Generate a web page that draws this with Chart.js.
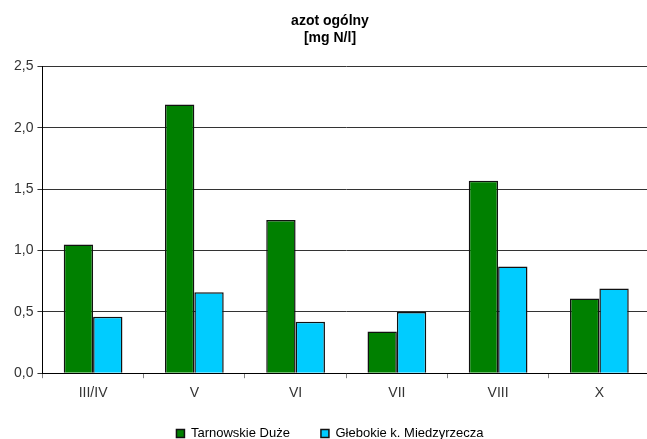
<!DOCTYPE html>
<html>
<head>
<meta charset="utf-8">
<script src="https://cdn.jsdelivr.net/npm/chart.js@4/dist/chart.umd.min.js"></script>
<style>
  html, body { margin: 0; padding: 0; background: #fff; overflow: hidden; }
  #wrap { width: 662px; height: 439px; }
</style>
</head>
<body>
<div id="wrap"><canvas id="c" width="662" height="439"></canvas></div>
<script>
// Sampling periods (months)
const categories = ['III/IV', 'V', 'VI', 'VII', 'VIII', 'X'];
// Total nitrogen [mg N/l] per site
const tarnowskie = [1.05, 2.19, 1.25, 0.34, 1.57, 0.61];
const glebokie = [0.46, 0.66, 0.42, 0.50, 0.87, 0.69];
const seriesNames = ['Tarnowskie Duże', 'Głebokie k. Miedzyrzecza'];
const titleLines = ['azot ogólny', '[mg N/l]'];
const yTicks = [0, 0.5, 1.0, 1.5, 2.0, 2.5];

const FONT = "'Liberation Sans', Arial, sans-serif";

// Wide spacing between legend items, but a short legend box close to the axis
const compactLegend = {
  id: 'compactLegend',
  afterInit(chart) {
    const legend = chart.legend;
    if (!legend) return;
    const fit = legend.fit;
    legend.fit = function () {
      fit.call(this);
      this.height -= 24;
    };
  },
  afterLayout(chart) {
    const legend = chart.legend;
    if (!legend) return;
    legend.top -= 13;
    legend.bottom = chart.height;
    legend.height = legend.bottom - legend.top;
  }
};

new Chart(document.getElementById('c'), {
  type: 'bar',
  data: {
    labels: categories,
    datasets: [
      { label: seriesNames[0], data: tarnowskie, backgroundColor: '#008000', borderColor: '#111', borderWidth: 1.5 },
      { label: seriesNames[1], data: glebokie, backgroundColor: '#00CCFF', borderColor: '#111', borderWidth: 1.5 }
    ]
  },
  plugins: [compactLegend],
  options: {
    responsive: false,
    animation: false,
    devicePixelRatio: 1,
    layout: { padding: { left: 10, right: 12, top: 0, bottom: 0 } },
    datasets: { bar: { categoryPercentage: 0.58, barPercentage: 1.0 } },
    plugins: {
      title: {
        display: true,
        text: titleLines,
        color: '#000',
        font: { family: FONT, size: 14, weight: 'bold', lineHeight: 1.2 },
        padding: { top: 13, bottom: 20 }
      },
      legend: {
        position: 'bottom',
        labels: {
          color: '#000',
          boxWidth: 8,
          boxHeight: 8,
          padding: 31,
          font: { family: FONT, size: 13 }
        }
      },
      tooltip: { enabled: false }
    },
    scales: {
      x: {
        offset: true,
        grid: { offset: true, drawOnChartArea: false, drawTicks: true, tickLength: 5, color: '#808080' },
        border: { color: '#000', width: 1 },
        ticks: { color: '#333', font: { family: FONT, size: 14 }, padding: 7 }
      },
      y: {
        min: 0,
        max: 2.5,
        afterBuildTicks: (axis) => { axis.ticks = yTicks.map(v => ({ value: v })); },
        grid: { color: '#333', tickLength: 5, lineWidth: 1 },
        border: { color: '#000', width: 1 },
        ticks: {
          color: '#333',
          font: { family: FONT, size: 14 },
          padding: 4,
          callback: (v) => Number(v).toFixed(1).replace('.', ',')
        }
      }
    }
  }
});
</script>
</body>
</html>
